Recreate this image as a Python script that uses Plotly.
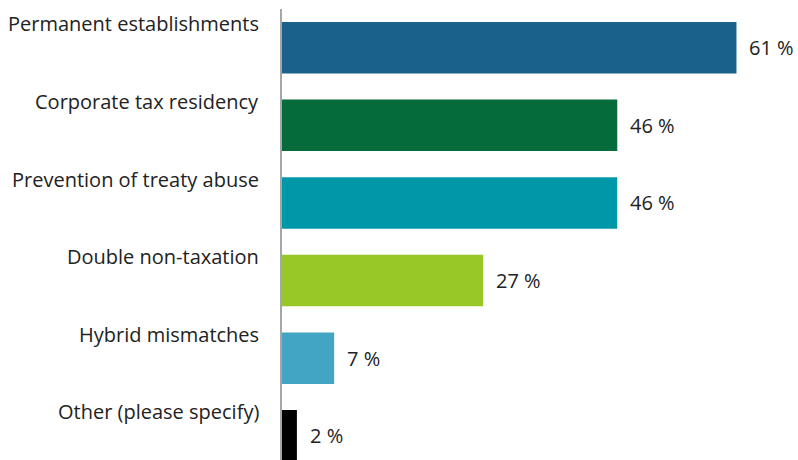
import plotly.graph_objects as go

categories = ["Permanent establishments", "Corporate tax residency", "Prevention of treaty abuse",
              "Double non-taxation", "Hybrid mismatches", "Other (please specify)"]
values = [61, 45, 45, 27, 7, 2]
value_labels = ["61 %", "46 %", "46 %", "27 %", "7 %", "2 %"]
colors = ["#1a618c", "#066b3a", "#0098a8", "#97c827", "#42a5c4", "#000000"]

pos = list(range(len(categories)))
BAR_W = 0.664
FONT = "Open Sans"
TXT = "#222222"

fig = go.Figure(go.Bar(
    x=values, y=pos, orientation="h",
    marker=dict(color=colors, line=dict(width=0)),
    width=BAR_W, hoverinfo="skip",
))

ann = []
for p, c, v, lab in zip(pos, categories, values, value_labels):
    ann.append(dict(x=0, xref="paper", y=p - BAR_W / 2, yref="y", text=c,
                    xanchor="right", yanchor="middle", xshift=-21, yshift=-2, showarrow=False,
                    font=dict(family=FONT, size=20, color=TXT)))
    ann.append(dict(x=v, xref="x", y=p, yref="y", text=lab,
                    xanchor="left", yanchor="middle", xshift=11, showarrow=False,
                    font=dict(family=FONT, size=20, color=TXT)))

fig.update_layout(
    width=798, height=460,
    margin=dict(l=282, r=0, t=9, b=0),
    paper_bgcolor="white", plot_bgcolor="white",
    showlegend=False,
    xaxis=dict(range=[0, 69.26], visible=False, fixedrange=True),
    yaxis=dict(range=[5.3125, -0.4994], showticklabels=False, showgrid=False, zeroline=False,
               showline=True, linecolor="#a6a6a6", linewidth=2, ticks="", fixedrange=True),
    annotations=ann,
)

fig.write_html("out.html", config={"displayModeBar": False})
